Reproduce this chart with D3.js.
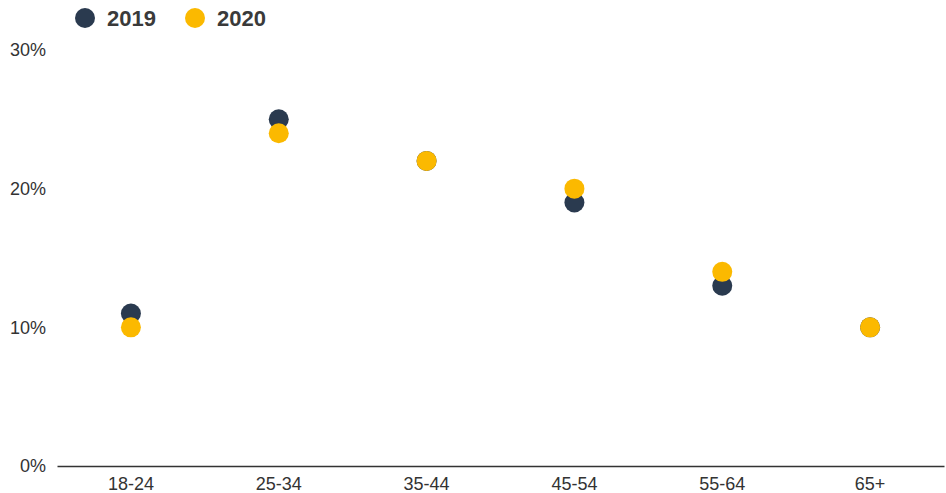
<!DOCTYPE html>
<html><head><meta charset="utf-8">
<script src="https://cdn.jsdelivr.net/npm/d3@7"></script>
<style>
html,body{margin:0;padding:0;background:#fff;}
svg{display:block;font-family:"Liberation Sans",Arial,sans-serif;}
</style></head>
<body>
<svg id="c" width="946" height="493"></svg>
<script>
const categories = ["18-24","25-34","35-44","45-54","55-64","65+"];
const series2019 = [11,25,22,19,13,10];
const series2020 = [10,24,22,20,14,10];
const yTicks = [0,10,20,30];
const seriesNames = ["2019","2020"];
const colors = ["#2a3a4f","#fbb900"];

const svg = d3.select("#c");
const margin = {left:57, right:2, top:50, bottom:27};
const W = 946, H = 493;
const x = d3.scaleBand().domain(categories).range([margin.left, W - margin.right]).paddingInner(0).paddingOuter(0);
const y = d3.scaleLinear().domain([0,30]).range([H - margin.bottom, margin.top]);

// x axis
const xa = svg.append("g").attr("transform",`translate(0,${y(0)})`)
  .call(d3.axisBottom(x).tickSize(0).tickPadding(11));
xa.select(".domain").attr("stroke","#333").attr("stroke-width",1.5);
xa.selectAll("text").attr("font-size",18).attr("fill","#333").attr("font-family","Liberation Sans, Arial, sans-serif");

// y axis labels
const ya = svg.append("g").attr("transform",`translate(46,0)`)
  .call(d3.axisLeft(y).tickValues(yTicks).tickSize(0).tickPadding(0).tickFormat(d=>d+"%"));
ya.select(".domain").remove();
ya.selectAll("text").attr("font-size",18).attr("fill","#333").attr("font-family","Liberation Sans, Arial, sans-serif");

const data = [series2019, series2020];
data.forEach((vals,i)=>{
  svg.append("g").selectAll("circle").data(vals).join("circle")
    .attr("cx",(d,j)=>x(categories[j]) + x.bandwidth()/2)
    .attr("cy",d=>y(d))
    .attr("r",10)
    .attr("fill",colors[i]);
});

// legend
const legX = [85,195];
seriesNames.forEach((n,i)=>{
  svg.append("circle").attr("cx",legX[i]).attr("cy",18).attr("r",10).attr("fill",colors[i]);
  svg.append("text").attr("x",legX[i]+22).attr("y",18).attr("dy","0.36em")
    .attr("font-size",22).attr("font-weight","bold").attr("fill","#3a3a3a").text(n);
});
</script>
</body></html>
